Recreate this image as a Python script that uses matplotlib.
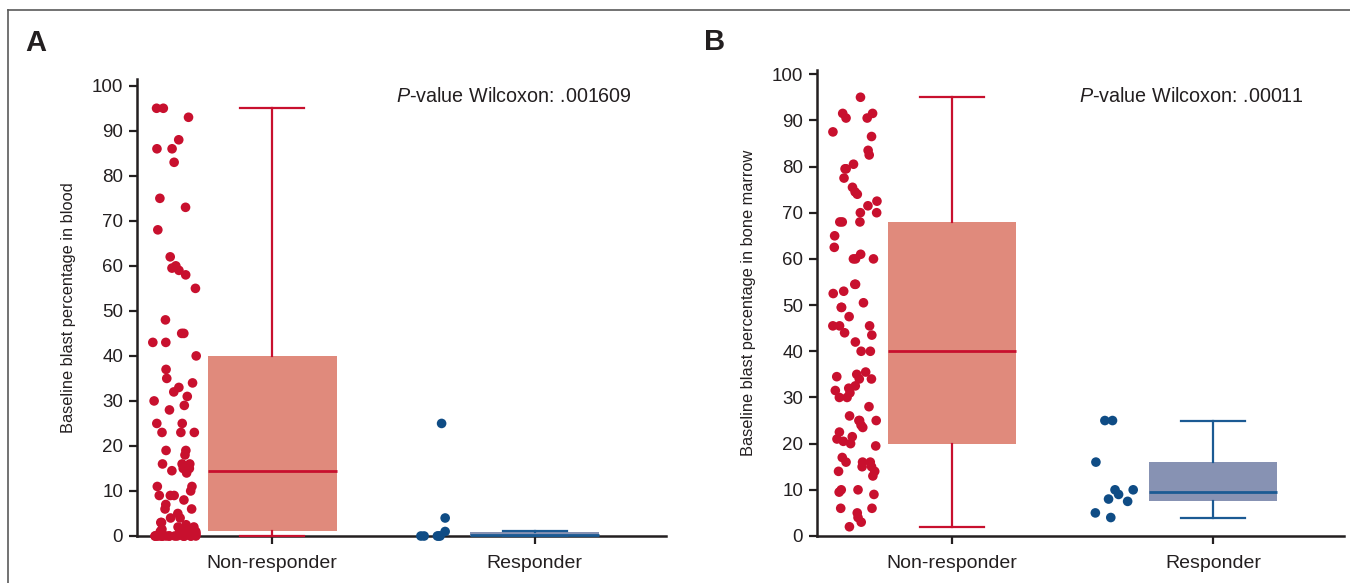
import numpy as np
import matplotlib
matplotlib.use("Agg")
import matplotlib.pyplot as plt
from matplotlib.lines import Line2D
from matplotlib import font_manager as fm

# ---------------- data ----------------
categories = ["Non-responder", "Responder"]

blood_nonresp = [95, 95, 93, 88, 86, 86, 83, 75, 73, 68, 62, 60, 59.5, 59, 58, 55,
                 48, 45, 45, 43, 43, 40, 37, 35, 34, 33, 32, 31, 30, 29, 28, 25, 25,
                 23, 23, 23, 19, 19, 18, 16, 16, 16, 15, 15, 14.5, 14, 11, 11, 10,
                 9, 9, 9, 8, 7, 6, 6, 5, 4, 4, 3, 3, 2.5, 2, 2, 2, 1.5, 1.5, 1, 1,
                 1, 1, 0.5, 0.5, 0.5, 0, 0, 0, 0, 0, 0, 0, 0, 0, 0, 0, 0, 0, 0, 0,
                 0, 0, 0]
blood_resp = [25, 4, 1, 0, 0, 0, 0, 0]

marrow_nonresp = [95, 91.5, 90.5, 91.5, 90.5, 86.5, 87.5, 82.5, 83.5, 80.5, 79.5,
                  79.5, 77.5, 75.5, 74.5, 74, 72.5, 71.5, 70, 70, 68, 68, 68, 65,
                  62.5, 60, 60, 60, 61, 54.5, 54.5, 53, 52.5, 49.5, 50.5, 49.5,
                  47.5, 45.5, 45.5, 45.5, 44, 43.5, 42, 40, 40, 35.5, 34.5, 35, 32.5,
                  34, 32, 34, 31.5, 31, 30, 30, 28, 26, 25, 25, 25, 24, 23.5, 22.5,
                  21.5, 20.5, 20, 21, 19.5, 17, 16, 16, 15, 15, 14, 16, 14, 13,
                  10, 9.5, 10, 9, 5, 6, 6, 3, 4, 2]
marrow_resp = [25, 25, 16, 10, 10, 9, 8, 7.5, 5, 4]

# box statistics: [whislo, q1, med, q3, whishi]
blood_box_nonresp = [0, 1, 14.5, 40, 95]
blood_box_resp = [0, 0, 0.3, 0.9, 1.0]
marrow_box_nonresp = [2, 20, 40, 68, 95]
marrow_box_resp = [4, 7.5, 9.5, 16, 25]

yticks = [0, 10, 20, 30, 40, 50, 60, 70, 80, 90, 100]
pvalue_blood = ".001609"
pvalue_marrow = ".00011"

# ---------------- style ----------------
RED = "#C8102E"
SALMON = "#E08A7C"
BLUE_PT = "#0F4C85"
BLUE_BOX = "#8792B3"
BLUE_LN = "#1B5A93"
AXC = "#231F20"

names = {f.name for f in fm.fontManager.ttflist}
narrow = ["Liberation Sans Narrow", "Liberation Sans"] if "Liberation Sans Narrow" in names else ["Liberation Sans"]

plt.rcParams["font.family"] = ["Liberation Sans", "DejaVu Sans"]
plt.rcParams["mathtext.fontset"] = "custom"
plt.rcParams["mathtext.rm"] = "Liberation Sans"
plt.rcParams["mathtext.it"] = "Liberation Sans:italic"

fig = plt.figure(figsize=(13.5, 5.83), dpi=100)

W, H = 1350, 583


def make_ax(left_px, right_px, top_px, bottom_px):
    return fig.add_axes([left_px / W, 1 - bottom_px / H,
                         (right_px - left_px) / W, (bottom_px - top_px) / H])


def stats(v, label):
    return dict(whislo=v[0], q1=v[1], med=v[2], q3=v[3], whishi=v[4], label=label, fliers=[])


def draw_panel(ax, nonresp, resp, box_nr, box_r, ylabel, ptext, ptext_xpx, ymax, seed):
    rng = np.random.default_rng(seed)
    offset = -0.37
    jit = 0.085
    for i, (vals, col) in enumerate([(nonresp, RED), (resp, BLUE_PT)]):
        x = i + offset + rng.uniform(-jit, jit, len(vals))
        ax.scatter(x, vals, s=48, color=col, edgecolors="none", zorder=4, clip_on=False)

    for i, (bs, fc, lc) in enumerate([(box_nr, SALMON, RED), (box_r, BLUE_BOX, BLUE_LN)]):
        ax.bxp([stats(bs, categories[i])], positions=[i], widths=0.49,
               capwidths=0.245, patch_artist=True, showfliers=False,
               boxprops=dict(facecolor=fc, edgecolor=fc, linewidth=0),
               medianprops=dict(color=lc, linewidth=2.0),
               whiskerprops=dict(color=lc, linewidth=1.6),
               capprops=dict(color=lc, linewidth=1.6),
               manage_ticks=False, zorder=3)
        for art in ax.lines[-5:]:
            art.set_clip_on(False)

    ax.set_xlim(-0.515, 1.5)
    ax.set_ylim(0, ymax)
    ax.set_xticks([0, 1])
    ax.set_xticklabels(categories, fontsize=14)
    ax.set_yticks(yticks)
    for s in ["top", "right"]:
        ax.spines[s].set_visible(False)
    for s in ["left", "bottom"]:
        ax.spines[s].set_linewidth(1.8)
        ax.spines[s].set_color(AXC)
        ax.spines[s].set_zorder(2)
    ax.tick_params(axis="both", colors=AXC, width=1.6, length=6)
    ax.tick_params(axis="y", pad=4, labelsize=13.5)
    ax.tick_params(axis="x", pad=8, labelsize=14)
    ax.set_ylabel(ylabel, fontsize=11.8, family=narrow, color=AXC, labelpad=11)
    fig.text(ptext_xpx / W, 1 - 96 / H, r"$\mathit{P}$-value Wilcoxon: " + ptext,
             ha="center", va="center", fontsize=14.2, color=AXC)


axA = make_ax(137, 666, 79, 536)
draw_panel(axA, blood_nonresp, blood_resp, blood_box_nonresp, blood_box_resp,
           "Baseline blast percentage in blood", pvalue_blood, 514, 101.5, 3)

axB = make_ax(817, 1344, 70, 536)
draw_panel(axB, marrow_nonresp, marrow_resp, marrow_box_nonresp, marrow_box_resp,
           "Baseline blast percentage in bone marrow", pvalue_marrow, 1191, 100.9, 7)

fig.text(25 / W, 1 - 51 / H, "A", fontsize=21, fontweight="bold", color=AXC, ha="left", va="baseline")
fig.text(704 / W, 1 - 50 / H, "B", fontsize=21, fontweight="bold", color=AXC, ha="left", va="baseline")

# outer frame
fig.add_artist(Line2D([8 / W, 1.0], [1 - 10 / H, 1 - 10 / H], transform=fig.transFigure,
                      color="#5a5a5a", linewidth=1.2))
fig.add_artist(Line2D([8 / W, 8 / W], [1 - 10 / H, 0], transform=fig.transFigure,
                      color="#5a5a5a", linewidth=1.2))

fig.savefig("out.png", dpi=100)
